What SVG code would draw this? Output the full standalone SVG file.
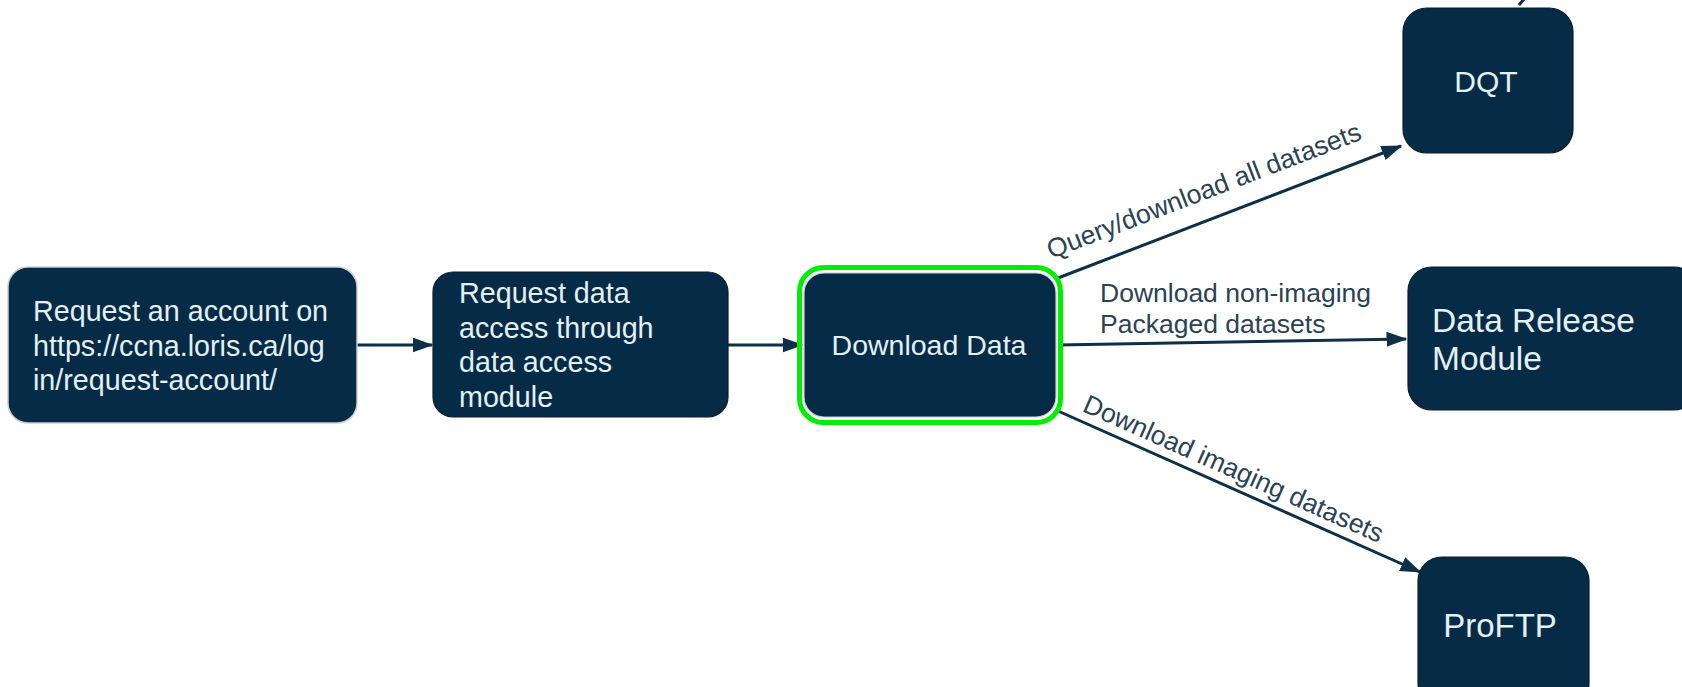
<svg xmlns="http://www.w3.org/2000/svg" width="1682" height="687" viewBox="0 0 1682 687">
<style>
.box{fill:#062b46;stroke:#0d1e2c;stroke-width:1.2}
.nt{font-family:"Liberation Sans",Arial,sans-serif;fill:#e3f1f6}
.lbl{font-family:"Liberation Sans",Arial,sans-serif;fill:#2b4255;font-size:26.5px}
.edge{stroke:#0e2f48;stroke-width:3;fill:none}
</style>
<defs>
<marker id="arr" markerWidth="7" markerHeight="5" refX="6.5" refY="2.5" orient="auto" markerUnits="strokeWidth">
<path d="M0,0 L7,2.5 L0,5 Z" fill="#0e2f48"/>
</marker>
</defs>
<rect width="1682" height="687" fill="#ffffff"/>
<g id="connectors">
<line class="edge" x1="357" y1="345" x2="432" y2="345" marker-end="url(#arr)"/>
<line class="edge" x1="728" y1="345" x2="802" y2="345" marker-end="url(#arr)"/>
<line class="edge" x1="1058" y1="278" x2="1401" y2="146" marker-end="url(#arr)"/>
<line class="edge" x1="1058" y1="345" x2="1406" y2="339" marker-end="url(#arr)"/>
<line class="edge" x1="1058" y1="411" x2="1420" y2="572" marker-end="url(#arr)"/>
<line class="edge" x1="1519" y1="5" x2="1525" y2="-2"/>
<text class="lbl" transform="translate(1207,199) rotate(-21)" text-anchor="middle">Query/download all datasets</text>
<text class="lbl" x="1100" y="302">Download non-imaging</text>
<text class="lbl" x="1100" y="333">Packaged datasets</text>
<text class="lbl" transform="translate(1230,477) rotate(24)" text-anchor="middle">Download imaging datasets</text>
</g>
<g id="node-request-account">
<rect class="box" x="8" y="267" width="349" height="156" rx="20" style="stroke:#c9ced3;stroke-width:1.5"/>
<text class="nt" font-size="28.7" x="33"><tspan x="33" y="321">Request an account on</tspan><tspan x="33" y="355.5">https://ccna.loris.ca/log</tspan><tspan x="33" y="390">in/request-account/</tspan></text>
</g>
<g id="node-request-data">
<rect class="box" x="433" y="272" width="295" height="145" rx="20"/>
<text class="nt" font-size="28.7"><tspan x="459" y="303">Request data</tspan><tspan x="459" y="337.5">access through</tspan><tspan x="459" y="372">data access</tspan><tspan x="459" y="406.5">module</tspan></text>
</g>
<g id="node-download-data">
<rect x="799.5" y="267.5" width="261" height="155" rx="24" fill="none" stroke="#00ee00" stroke-width="5"/>
<rect class="box" x="804" y="273" width="252" height="144" rx="20" style="stroke:#c9ced3;stroke-width:1.2"/>
<text class="nt" font-size="28.5" x="929" y="355" text-anchor="middle">Download Data</text>
</g>
<g id="node-dqt">
<rect class="box" x="1403" y="8" width="170" height="145" rx="24"/>
<text class="nt" font-size="30" x="1486" y="92" text-anchor="middle">DQT</text>
</g>
<g id="node-data-release">
<rect class="box" x="1408" y="267" width="290" height="143" rx="24"/>
<text class="nt" font-size="33.5"><tspan x="1432" y="332">Data Release</tspan><tspan x="1432" y="370">Module</tspan></text>
</g>
<g id="node-proftp">
<rect class="box" x="1418" y="557" width="171" height="150" rx="24"/>
<text class="nt" font-size="33" x="1500" y="637" text-anchor="middle">ProFTP</text>
</g>
</svg>
